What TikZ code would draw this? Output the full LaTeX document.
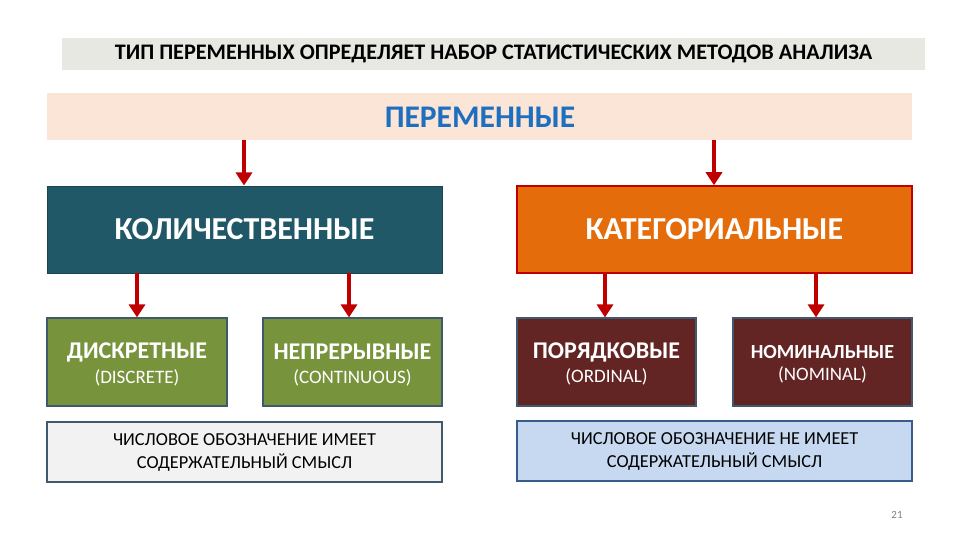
\documentclass[tikz,border=0pt]{standalone}
\usepackage{fontspec}
\setmainfont{Carlito}
\usetikzlibrary{arrows.meta}
\definecolor{titlebg}{HTML}{E8E8E2}
\definecolor{peach}{HTML}{FBE5D6}
\definecolor{varblue}{HTML}{1F6FC0}
\definecolor{teal}{HTML}{215868}
\definecolor{orangebox}{HTML}{E46C0A}
\definecolor{arrowred}{HTML}{C00000}
\definecolor{greenbox}{HTML}{77933C}
\definecolor{maroon}{HTML}{632523}
\definecolor{slateborder}{HTML}{3F5A6E}
\definecolor{lightgray}{HTML}{F2F2F2}
\definecolor{lightblue}{HTML}{C6D9F1}
\definecolor{blueborder}{HTML}{385D8A}
\tikzset{
  x=1pt, y=-1pt,
  box/.style={rectangle, inner sep=0pt, align=center, text=white},
  lbl/.style={text=white, inner sep=0pt},
  redarrow/.style={draw=arrowred, line width=4.5pt, -{Triangle[width=16pt,length=13pt]}},
}
\begin{document}
\begin{tikzpicture}
\useasboundingbox (0,0) rectangle (960,540);
\fill[white] (0,0) rectangle (960,540);
% title
\node[box, fill=titlebg, text=black, minimum width=863pt, minimum height=32pt, font=\fontsize{22.2}{24}\selectfont\bfseries] (title) at (493.5,54) {ТИП ПЕРЕМЕННЫХ ОПРЕДЕЛЯЕТ НАБОР СТАТИСТИЧЕСКИХ МЕТОДОВ АНАЛИЗА};
% variables bar
\node[box, fill=peach, minimum width=865pt, minimum height=47pt] (vars) at (479.5,116.5) {};
\node[text=varblue, font=\fontsize{31.5}{34}\selectfont\bfseries, inner sep=0pt] (varstxt) at (480,117) {ПЕРЕМЕННЫЕ};
% level 2
\node[box, fill=teal, draw=teal!80!black, line width=1pt, minimum width=395pt, minimum height=87pt, font=\fontsize{32}{34}\selectfont\bfseries] (quant) at (244.5,229.5) {КОЛИЧЕСТВЕННЫЕ};
\node[box, fill=orangebox, draw=arrowred, line width=1.5pt, minimum width=395pt, minimum height=87pt, font=\fontsize{32}{34}\selectfont\bfseries] (cat) at (714.5,229.5) {КАТЕГОРИАЛЬНЫЕ};
% arrows top
\coordinate (a1) at (244,140);
\coordinate (a2) at (714,140);
\draw[redarrow] (a1) -- (quant.north -| a1);
\draw[redarrow] (a2) -- (cat.north -| a2);
% level 3
\node[box, fill=greenbox, draw=slateborder, line width=1.2pt, minimum width=180pt, minimum height=88pt] (disc) at (137,362) {};
\node[box, fill=greenbox, draw=slateborder, line width=1.2pt, minimum width=179pt, minimum height=88pt] (cont) at (352.5,362) {};
\node[box, fill=maroon, draw=slateborder, line width=1.2pt, minimum width=179pt, minimum height=88pt] (ord) at (606.5,362) {};
\node[box, fill=maroon, draw=slateborder, line width=1.2pt, minimum width=179pt, minimum height=88pt] (nom) at (822.5,362) {};
\node[lbl, font=\fontsize{24}{26}\selectfont\bfseries] (disc1) at (137,352) {ДИСКРЕТНЫЕ};
\node[lbl, font=\fontsize{19}{21}\selectfont] (disc2) at (137,378) {(DISCRETE)};
\node[lbl, font=\fontsize{24}{26}\selectfont\bfseries] (cont1) at (352.5,352) {НЕПРЕРЫВНЫЕ};
\node[lbl, font=\fontsize{19}{21}\selectfont] (cont2) at (352.5,378) {(CONTINUOUS)};
\node[lbl, font=\fontsize{24}{26}\selectfont\bfseries] (ord1) at (606.5,352) {ПОРЯДКОВЫЕ};
\node[lbl, font=\fontsize{19}{21}\selectfont] (ord2) at (606.5,377) {(ORDINAL)};
\node[lbl, font=\fontsize{20}{22}\selectfont\bfseries] (nom1) at (822.5,352) {НОМИНАЛЬНЫЕ};
\node[lbl, font=\fontsize{19}{21}\selectfont] (nom2) at (822.5,375) {(NOMINAL)};
% arrows level 2 -> 3
\coordinate (b1) at (137,273);
\coordinate (b2) at (349,273);
\coordinate (b3) at (605,273);
\coordinate (b4) at (816,273);
\draw[redarrow] (b1) -- (disc.north -| b1);
\draw[redarrow] (b2) -- (cont.north -| b2);
\draw[redarrow] (b3) -- (ord.north -| b3);
\draw[redarrow] (b4) -- (nom.north -| b4);
% bottom boxes
\node[box, fill=lightgray, draw=slateborder, line width=1.5pt, text=black, minimum width=395pt, minimum height=60pt, font=\fontsize{18.3}{23}\selectfont] (numl) at (244.5,452) {ЧИСЛОВОЕ ОБОЗНАЧЕНИЕ ИМЕЕТ\\СОДЕРЖАТЕЛЬНЫЙ СМЫСЛ};
\node[box, fill=lightblue, draw=blueborder, line width=1.5pt, text=black, minimum width=395pt, minimum height=60pt, font=\fontsize{18.3}{23}\selectfont] (numr) at (714.5,451) {ЧИСЛОВОЕ ОБОЗНАЧЕНИЕ НЕ ИМЕЕТ\\СОДЕРЖАТЕЛЬНЫЙ СМЫСЛ};
% page number
\node[text=gray, inner sep=0pt, font=\fontsize{11}{12}\selectfont] (page) at (897,515) {21};
\end{tikzpicture}
\end{document}
